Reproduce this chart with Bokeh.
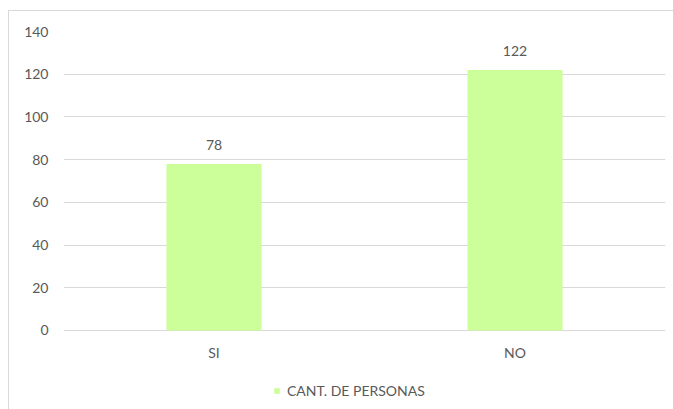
from bokeh.plotting import figure
from bokeh.models import ColumnDataSource, FactorRange, Range1d, FixedTicker, LabelSet, Legend, LegendItem
from bokeh.core.properties import value
from bokeh.embed import file_html
from bokeh.resources import INLINE

categories = ["SI", "NO"]
values = [78, 122]
series_name = "CANT. DE PERSONAS"
y_ticks = [0, 20, 40, 60, 80, 100, 120, 140]

FONT = "Lato"
TXT = "#595959"
GRID = "#D9D9D9"

source = ColumnDataSource(dict(cat=categories, val=values, lbl=[str(v) for v in values],
                               base=[0] * len(categories)))

# frame extends below zero so the legend and category labels sit inside it
p = figure(width=673, height=409, x_range=FactorRange(*categories), y_range=Range1d(-37, 140),
           output_backend="svg", toolbar_location=None,
           min_border_left=63, min_border_right=8, min_border_top=31, min_border_bottom=0)
p.styles = {
    "background": "linear-gradient(#D9D9D9, #D9D9D9) 8px 10px / 1px 100% no-repeat, "
                  "linear-gradient(#D9D9D9, #D9D9D9) 8px 10px / 100% 1px no-repeat, white",
}
p.outline_line_color = None
p.background_fill_color = None
p.border_fill_color = None
p.border_fill_alpha = 0

bars = p.vbar(x="cat", top="val", bottom="base", width=0.316, source=source,
              fill_color="#CCFF99", line_color=None)

labels = LabelSet(x="cat", y="val", text="lbl", source=source, text_align="center",
                  text_baseline="bottom", y_offset=14, text_font=value(FONT), text_font_size="14px",
                  text_color=TXT)
p.add_layout(labels)

cat_labels = LabelSet(x="cat", y="base", text="cat", source=source, text_align="center",
                      text_baseline="middle", y_offset=-22, text_font=value(FONT),
                      text_font_size="14px", text_color=TXT)
p.add_layout(cat_labels)

p.xgrid.grid_line_color = None
p.ygrid.grid_line_color = GRID
p.ygrid.grid_line_width = 1
p.yaxis.ticker = FixedTicker(ticks=y_ticks)
p.xaxis.visible = False

p.yaxis.axis_line_color = None
p.yaxis.major_tick_line_color = None
p.yaxis.minor_tick_line_color = None
p.yaxis.major_tick_out = 0
p.yaxis.major_tick_in = 0
p.yaxis.minor_tick_out = 0
p.yaxis.major_label_text_font = FONT
p.yaxis.major_label_text_font_size = "14px"
p.yaxis.major_label_text_color = TXT
p.yaxis.major_label_standoff = 15

legend = Legend(items=[LegendItem(label=series_name, renderers=[bars])],
                location=(210, 10), orientation="horizontal",
                border_line_color=None, background_fill_alpha=0,
                glyph_width=7, glyph_height=7, label_standoff=7,
                padding=0, margin=0,
                label_text_font=FONT, label_text_font_size="14px", label_text_color=TXT)
p.add_layout(legend, "center")

open("out.html", "w").write(file_html(p, INLINE))
